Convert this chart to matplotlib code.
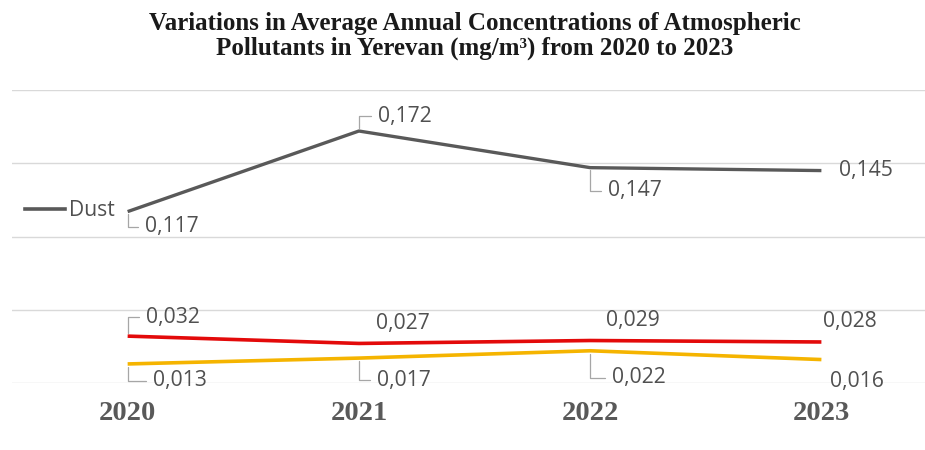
import matplotlib.pyplot as plt
from matplotlib.lines import Line2D

# Chart data
years = ["2020", "2021", "2022", "2023"]
dust = [0.117, 0.172, 0.147, 0.145]
red_series = [0.032, 0.027, 0.029, 0.028]
yellow_series = [0.013, 0.017, 0.022, 0.016]

TITLE = ("Variations in Average Annual Concentrations of Atmospheric\n"
         "Pollutants in Yerevan (mg/m\u00b3) from 2020 to 2023")

# Styles
DUST_COLOR = "#595959"
RED_COLOR = "#e30a0a"
YELLOW_COLOR = "#f5b400"
LABEL_COLOR = "#505050"
LEADER_COLOR = "#a6a6a6"
LABEL_FONT = "Open Sans"
LABEL_SIZE = 15.2

# label offsets in pixels (dx, dy) relative to the point and whether a leader is drawn
dust_offsets = [(17, -15, True), (19, 15, True), (18, -23, True), (18, 0, False)]
red_offsets = [(18, 19, True), (17, 20, False), (16, 20, False), (2, 20, False)]
yellow_offsets = [(25, -17, True), (18, -22, True), (22, -27, True), (9, -22, False)]

fig = plt.figure(figsize=(9.25, 4.5), dpi=100)
ax = fig.add_axes([0.013, 1 - 383 / 450, 1.0, (383 - 90) / 450])

x = range(len(years))
ax.plot(x, dust, color=DUST_COLOR, lw=2.4, solid_capstyle="butt", zorder=3)
ax.plot(x, red_series, color=RED_COLOR, lw=2.6, solid_capstyle="butt", zorder=3)
ax.plot(x, yellow_series, color=YELLOW_COLOR, lw=2.6, solid_capstyle="butt", zorder=3)

ax.set_xlim(-0.5, 3.5)
ax.set_ylim(0, 0.2)
ax.set_yticks([0, 0.05, 0.1, 0.15, 0.2])
ax.set_yticklabels([])
ax.grid(axis="y", color="#d9d9d9", lw=1)
ax.set_axisbelow(True)
ax.set_xticks(list(x))
ax.set_xticklabels(years, family="Liberation Serif", fontweight="bold",
                   fontsize=20.5, color="#595959")
ax.tick_params(axis="both", length=0)
ax.tick_params(axis="x", pad=13)
for s in ax.spines.values():
    s.set_visible(False)


def add_labels(values, offsets):
    for i, (v, (dx, dy, leader)) in enumerate(zip(values, offsets)):
        label = f"{v:.3f}".replace(".", ",")
        arrow = None
        if leader:
            arrow = dict(arrowstyle="-", color=LEADER_COLOR, lw=0.9,
                         connectionstyle="angle,angleA=0,angleB=90,rad=0",
                         relpos=(0, 0.5), shrinkA=3, shrinkB=2)
        ax.annotate(label, xy=(i, v), xytext=(dx, dy), textcoords="offset pixels",
                    ha="left", va="center", fontsize=LABEL_SIZE, family=LABEL_FONT,
                    color=LABEL_COLOR, arrowprops=arrow, zorder=4)


add_labels(dust, dust_offsets)
add_labels(red_series, red_offsets)
add_labels(yellow_series, yellow_offsets)

# legend (only Dust is visible in the original)
handle = Line2D([], [], color=DUST_COLOR, lw=2.6)
fig.legend([handle], ["Dust"], loc="center left", bbox_to_anchor=(0.027, 1 - 211 / 450),
           bbox_transform=fig.transFigure, frameon=False, borderpad=0,
           borderaxespad=0, handlelength=1.9, handletextpad=0.2,
           prop={"family": LABEL_FONT, "size": LABEL_SIZE}, labelcolor=LABEL_COLOR)

fig.text(0.513, 1 - 36 / 450, TITLE, ha="center", va="center", fontsize=18,
         family="Liberation Serif", fontweight="bold", color="#1a1a1a",
         linespacing=1.08)

fig.savefig("out.png", dpi=100)
